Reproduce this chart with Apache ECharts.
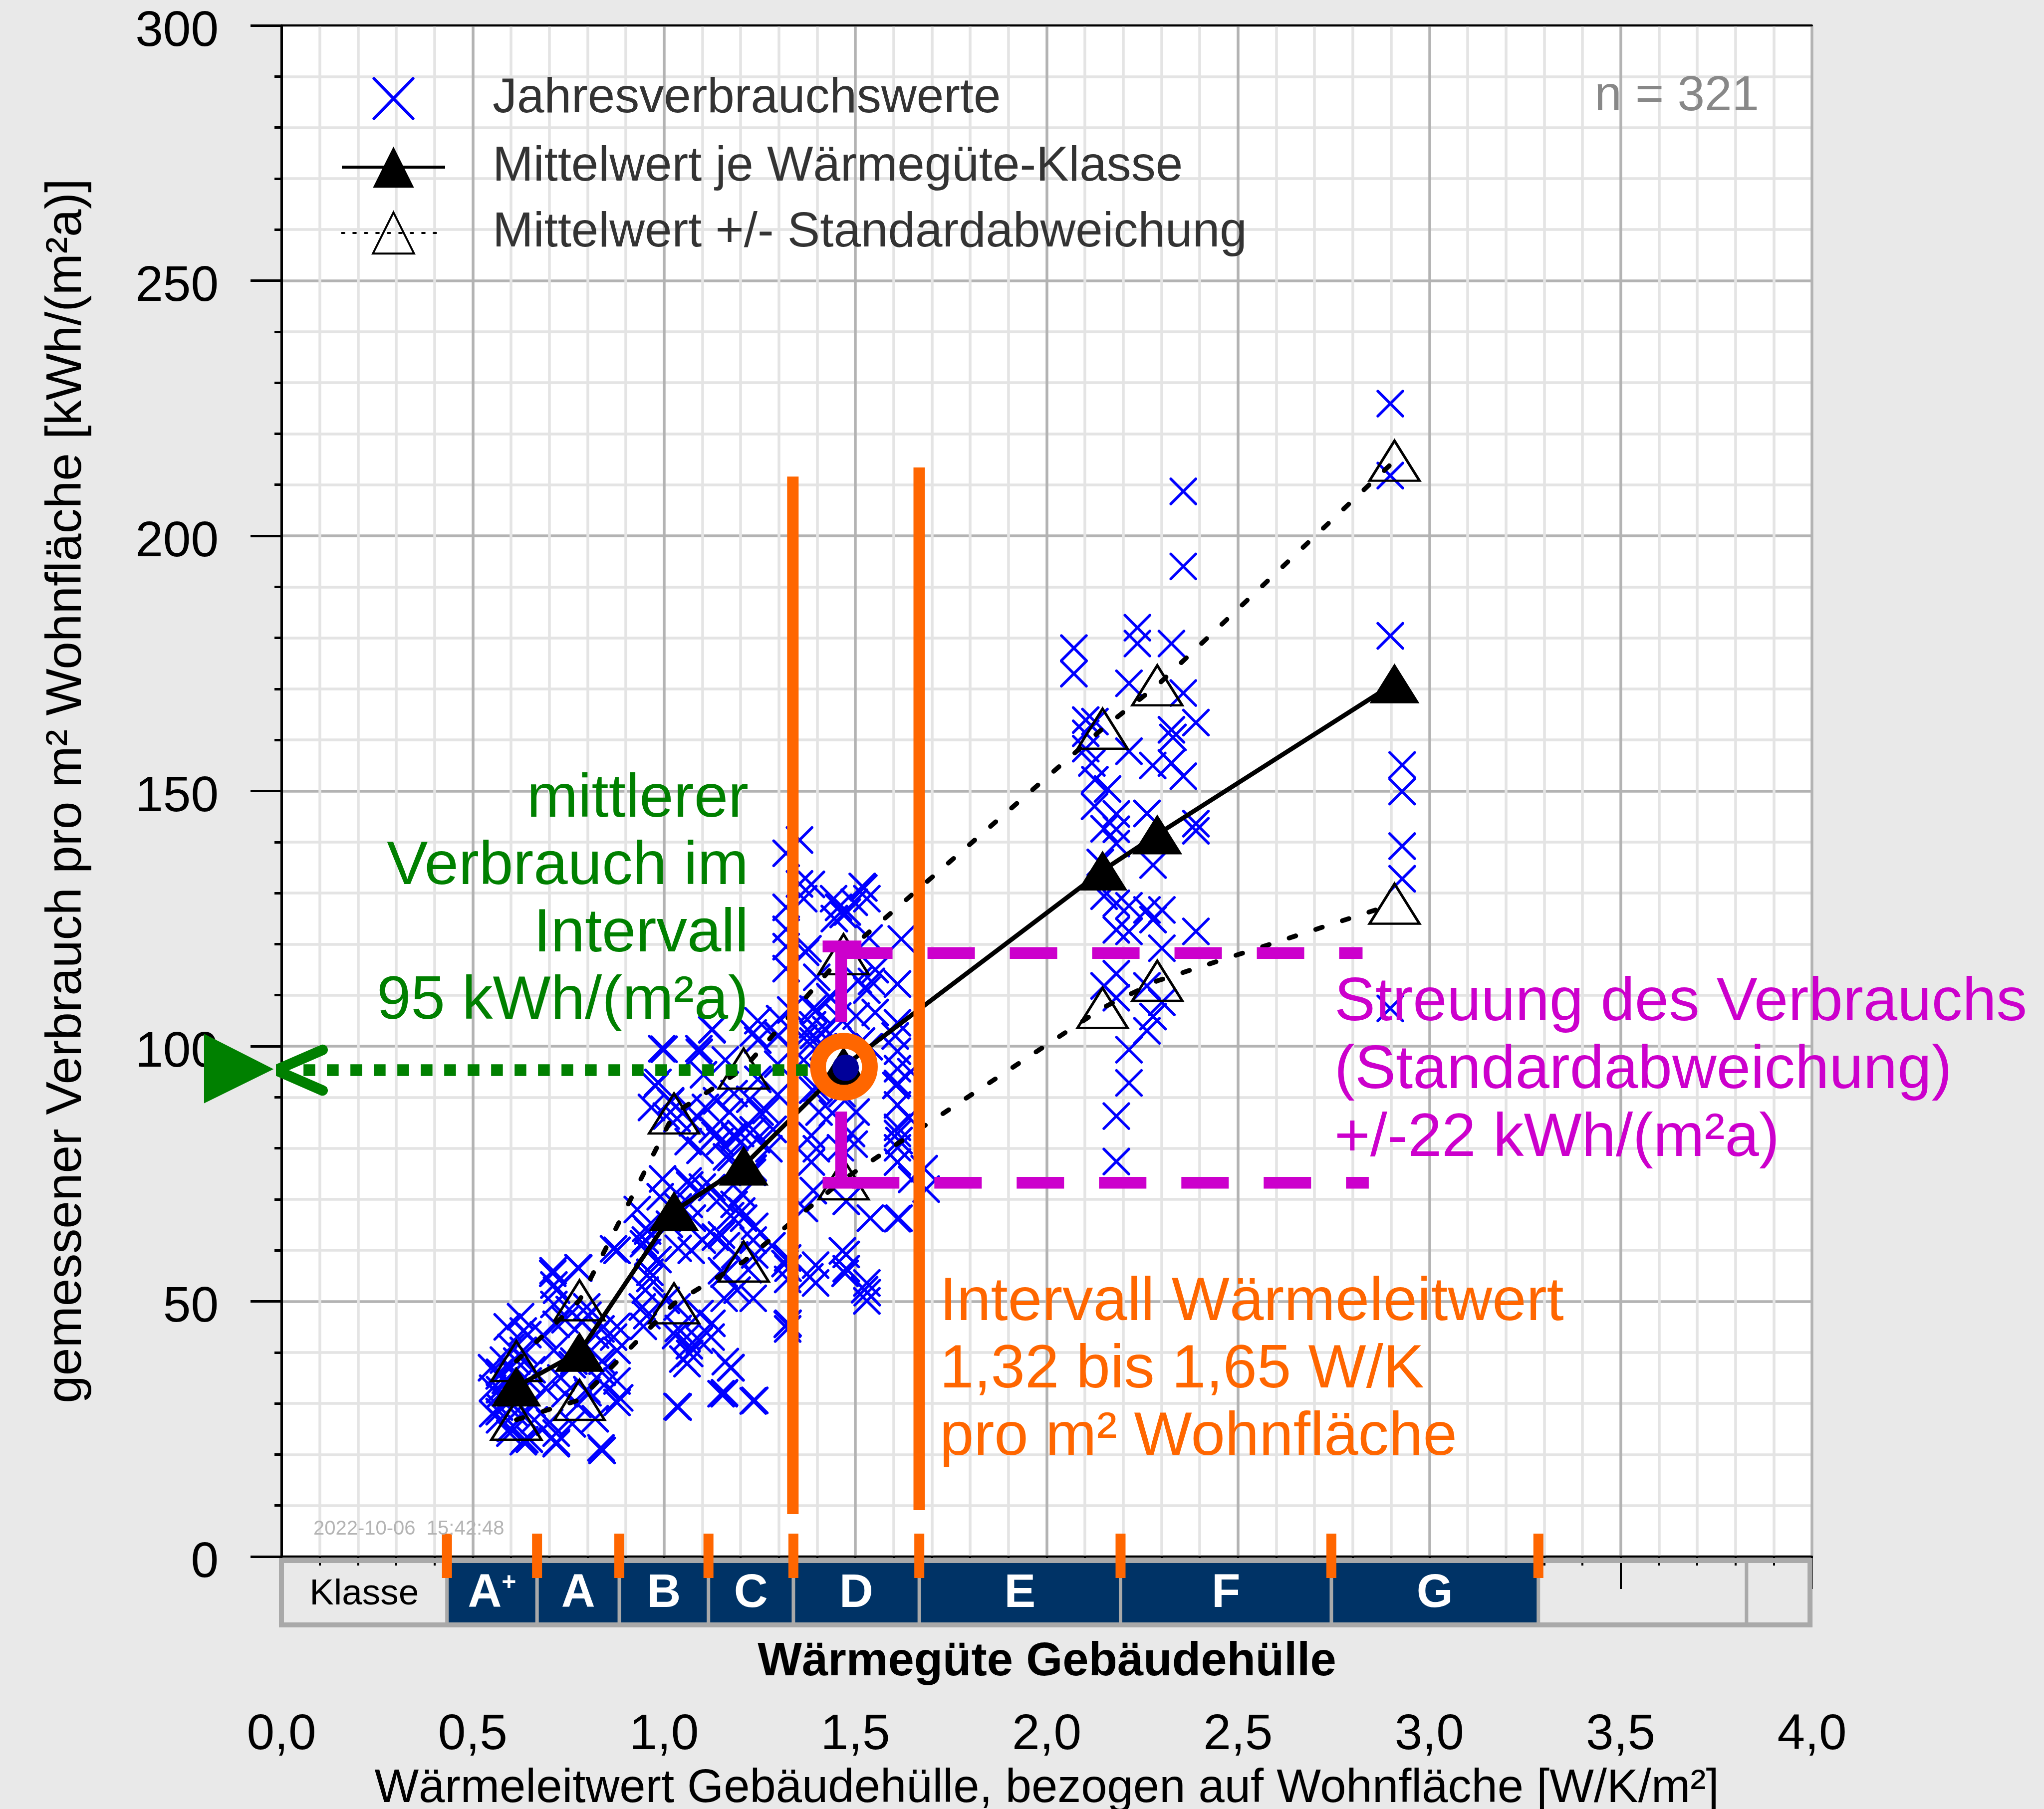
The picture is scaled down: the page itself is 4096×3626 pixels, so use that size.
<!DOCTYPE html>
<html><head><meta charset="utf-8">
<script src="https://cdn.jsdelivr.net/npm/echarts@6/dist/echarts.min.js"></script>
<style>html,body{margin:0;padding:0;background:#e9e9e9;}#chart{width:4096px;height:3626px;}</style>
</head><body><div id="chart"></div>
<script>
const FONT = '"Liberation Sans", Arial, Helvetica, sans-serif';

// ---- measured consumption values (x: W/K/m², y: kWh/(m²a)) per class ----
const ptsAplus = [[0.632,44.2],[0.632,40.4],[0.615,38.3],[0.655,36.6],[0.570,36.1],[0.570,32.7],[0.570,29.3],[0.570,26.8],[0.593,30.6],[0.610,28.1],[0.632,27.6],[0.632,22.5],[0.598,25.1],[0.661,26.8],[0.644,43.5],[0.628,39.2],[0.569,35.4],[0.569,31.6],[0.569,28.4],[0.636,22.9],[0.552,28.0],[0.549,37.0],[0.552,33.0],[0.585,34.5],[0.600,41.0],[0.620,32.0],[0.645,34.4],[0.597,24.2],[0.648,23.0],[0.580,38.5],[0.605,36.0],[0.655,30.0],[0.625,47.0],[0.590,45.0]];
const ptsA = [[0.709,55.5],[0.712,53.2],[0.712,49.4],[0.741,46.4],[0.718,45.5],[0.798,48.9],[0.786,45.9],[0.821,43.4],[0.877,45.1],[0.718,22.1],[0.718,24.2],[0.701,26.3],[0.741,31.9],[0.775,29.8],[0.798,32.7],[0.838,38.3],[0.838,36.1],[0.843,33.6],[0.877,34.4],[0.877,30.2],[0.838,20.8],[0.764,38.3],[0.712,40.4],[0.809,40.4],[0.684,43.4],[0.877,40.4],[0.775,56.6],[0.877,60.0],[0.710,56.0],[0.777,56.5],[0.719,52.2],[0.752,48.4],[0.801,47.3],[0.835,44.6],[0.868,43.0],[0.719,22.4],[0.835,21.3],[0.801,32.1],[0.760,37.6],[0.868,60.3],[0.690,33.0],[0.730,35.0],[0.760,26.0],[0.820,27.0]];
const ptsB = [[0.957,63.8],[0.946,61.3],[0.957,59.6],[0.963,55.7],[0.963,54.5],[0.952,64.3],[1.014,65.1],[1.037,68.5],[1.066,69.0],[1.063,73.6],[1.100,72.4],[1.037,60.4],[1.071,60.0],[1.037,44.7],[1.094,47.6],[1.066,41.3],[1.049,38.7],[1.060,37.8],[1.037,29.3],[0.946,45.1],[1.063,81.3],[1.094,79.6],[1.000,99.4],[1.092,98.8],[0.984,92.9],[0.967,88.0],[1.017,89.1],[1.034,85.8],[1.108,88.0],[1.067,72.8],[1.100,62.0],[0.951,62.0],[0.984,58.2],[0.951,52.2],[0.943,48.9],[1.034,48.9],[1.092,42.4],[1.059,43.0],[1.067,39.8],[1.034,29.4],[0.884,31.1],[0.994,99.5],[1.091,99.5],[1.103,94.4],[1.017,89.3],[0.977,92.2],[1.074,85.0],[1.006,86.3],[1.063,88.0],[0.996,74.0],[1.074,66.3],[0.990,70.5],[0.930,68.0],[1.006,50.2],[1.030,43.3],[0.955,47.2]];
const ptsC = [[1.146,81.3],[1.185,82.1],[1.242,81.7],[1.163,78.3],[1.231,75.3],[1.146,70.2],[1.203,71.1],[1.174,66.8],[1.203,67.7],[1.237,64.7],[1.134,62.6],[1.163,60.9],[1.185,59.1],[1.237,59.1],[1.220,56.2],[1.316,57.4],[1.157,55.3],[1.157,50.6],[1.123,43.0],[1.174,37.0],[1.157,31.9],[1.237,30.6],[1.322,45.5],[1.125,103.2],[1.233,102.6],[1.299,102.1],[1.183,90.7],[1.224,89.6],[1.266,87.4],[1.133,82.6],[1.183,82.6],[1.233,83.6],[1.274,79.9],[1.175,78.2],[1.233,76.1],[1.125,72.3],[1.183,69.0],[1.208,66.3],[1.150,63.0],[1.233,62.0],[1.324,45.7],[1.175,37.0],[1.158,32.1],[1.233,30.5],[1.125,45.7],[1.233,50.6],[1.191,52.2],[1.150,56.0],[1.282,60.9],[1.324,56.5],[1.319,137.8],[1.319,127.2],[1.319,122.9],[1.319,119.5],[1.319,115.2],[1.331,107.1],[1.302,105.4],[1.245,105.0],[1.126,103.3],[1.245,101.2],[1.297,102.0],[1.160,97.3],[1.245,93.5],[1.297,96.5],[1.297,90.5],[1.171,87.1],[1.251,87.1],[1.126,83.7],[1.285,83.7],[1.200,82.9],[1.137,89.3],[1.323,58.5],[1.323,54.3],[1.323,44.6],[1.149,31.9],[1.160,38.2]];
const ptsD = [[1.354,140.4],[1.354,131.8],[1.365,128.9],[1.522,131.0],[1.530,128.9],[1.456,127.2],[1.479,126.3],[1.445,125.0],[1.376,119.1],[1.536,121.2],[1.542,112.7],[1.530,111.0],[1.399,113.5],[1.399,107.1],[1.433,109.7],[1.502,105.9],[1.610,104.6],[1.604,102.0],[1.610,99.0],[1.610,95.6],[1.610,92.7],[1.610,84.1],[1.610,82.9],[1.388,104.2],[1.365,101.6],[1.433,102.4],[1.416,99.9],[1.365,97.3],[1.536,99.9],[1.502,87.1],[1.405,87.1],[1.388,91.4],[1.490,82.9],[1.385,131.7],[1.443,128.9],[1.497,128.2],[1.468,125.8],[1.370,118.4],[1.552,115.0],[1.610,112.2],[1.508,112.9],[1.436,109.4],[1.552,106.6],[1.389,107.3],[1.516,101.0],[1.389,101.0],[1.454,105.9],[1.385,82.5],[1.385,77.3],[1.461,80.1],[1.497,80.8],[1.610,88.5],[1.610,80.1],[1.610,77.3],[1.476,69.6],[1.367,68.2],[1.610,66.2],[1.476,59.2],[1.476,56.4],[1.396,57.1],[1.396,53.6],[1.530,53.6],[1.530,50.1],[1.473,55.5],[1.531,51.7],[1.539,66.3],[1.614,66.3],[1.647,73.9],[1.614,81.5],[1.398,79.9],[1.390,71.7],[1.440,86.9],[1.465,90.7],[1.398,91.8],[1.606,92.3],[1.390,102.1],[1.423,103.2],[1.640,86.0],[1.645,95.0],[1.620,121.0],[1.518,131.3],[1.466,59.9],[1.524,52.3],[1.381,54.8]];
const ptsEF = [[2.357,208.7],[2.357,194.0],[2.071,178.0],[2.071,173.0],[2.237,182.0],[2.237,178.9],[2.326,178.9],[2.215,171.1],[2.357,169.2],[2.390,163.4],[2.326,162.0],[2.330,160.5],[2.102,163.9],[2.102,161.3],[2.102,158.3],[2.126,163.6],[2.215,157.8],[2.277,155.0],[2.326,155.5],[2.357,152.9],[2.126,152.2],[2.182,145.5],[2.182,142.5],[2.262,145.6],[2.390,143.6],[2.390,142.2],[2.150,142.6],[2.182,139.7],[2.278,135.5],[2.150,129.4],[2.182,128.0],[2.215,127.5],[2.262,126.7],[2.278,124.8],[2.301,126.7],[2.215,122.5],[2.182,122.8],[2.301,119.2],[2.390,122.5],[2.182,114.2],[2.150,111.8],[2.182,109.5],[2.262,111.8],[2.301,108.6],[2.278,105.8],[2.262,103.0],[2.215,99.3],[2.215,92.8],[2.182,86.3],[2.182,77.4],[1.685,72.0],[1.680,76.0],[2.118,155.5],[2.159,150.4],[2.125,147.0],[2.140,136.0]];
const ptsG = [[2.898,225.9],[2.898,211.8],[2.898,180.4],[2.929,155.1],[2.929,149.9],[2.929,139.2],[2.929,132.8],[2.898,107.4]];

// ---- class means and +/- standard deviation ----
const classMeanX = [0.614, 0.779, 1.026, 1.208, 1.469, 2.146, 2.289, 2.909];
const classMeanY = [33.3, 40.1, 67.7, 76.6, 96.0, 134.4, 141.5, 171.1];
const classUpperY = [38.3, 50.2, 86.8, 95.6, 118.0, 162.2, 170.7, 214.7];
const classLowerY = [26.8, 30.7, 49.6, 57.8, 73.9, 107.5, 112.8, 127.9];

// ---- heat-quality classes below the x axis ----
const classEdges = [0, 0.4326, 0.668, 0.883, 1.116, 1.338, 1.667, 2.193, 2.744, 3.285, 3.829, 3.995];
const classNames = ['Klasse', 'A+', 'A', 'B', 'C', 'D', 'E', 'F', 'G', '', ''];
const classRated = [false, true, true, true, true, true, true, true, true, false, false];

// ---- annotations (data coordinates) ----
const intervalLeft = [[1.3366, 8.3], [1.3366, 211.6]];
const intervalRight = [[1.6668, 9.1], [1.6668, 213.4]];
const focusPoint = [1.4701, 95.96];
const focusDot = [1.4745, 95.78];
const sdBarUpper = [[1.4627, 119.55], [1.4627, 104.8]];
const sdBarLower = [[1.4627, 87.2], [1.4627, 72.2]];
const sdCapUpper = [[1.4144, 119.55], [1.5158, 119.55]];
const sdCapLower = [[1.4144, 73.25], [1.5158, 73.25]];
const sdDashUpper = [[1.4732, 118.25], [2.8255, 118.25]];
const sdDashLower = [[1.4911, 73.25], [2.8417, 73.25]];
const greenDotted = [[0.0576, 95.3], [1.3774, 95.3]];
const greenChevron = [[0.1076, 99.28], [-0.0144, 95.3], [0.1076, 91.32]];
const greenHead = [[-0.2022, 102.42], [-0.0205, 95.5], [-0.2022, 88.8]];

const xTickFmt = v => v.toFixed(1).replace('.', ',');
const allPoints = [].concat(ptsAplus, ptsA, ptsB, ptsC, ptsD, ptsEF, ptsG);
const classCells = classNames.map((n, i) => [classEdges[i], classEdges[i + 1], i]);
const classTicks = classEdges.slice(1, 10).map(v => [v, 0]);

const X_LEGEND = 'path://M0,0L0,0M12,11L88,89M88,11L12,89M100,100L100,100';

// cross marker for each measured value
function renderCross(params, api) {
  const p = api.coord([api.value(0), api.value(1)]);
  const r = 25;
  const st = {stroke: '#0000ff', lineWidth: 5.5, lineCap: 'round'};
  return {type: 'group', children: [
    {type: 'line', shape: {x1: p[0] - r, y1: p[1] - r, x2: p[0] + r, y2: p[1] + r}, style: st},
    {type: 'line', shape: {x1: p[0] - r, y1: p[1] + r, x2: p[0] + r, y2: p[1] - r}, style: st}
  ]};
}

function renderCell(params, api) {
  const i = api.value(2);
  const ps = api.coord([api.value(0), 0]);
  const pe = api.coord([api.value(1), 0]);
  const top = ps[1] + 8, h = 129;
  const ch = [];
  if (classRated[i]) {
    ch.push({type: 'rect', z2: 1, shape: {x: ps[0], y: top, width: pe[0] - ps[0], height: h}, style: {fill: '#003366'}});
  }
  if (i > 0) {
    ch.push({type: 'line', z2: 2, shape: {x1: ps[0], y1: top, x2: ps[0], y2: top + h}, style: {stroke: '#a9a9a9', lineWidth: 7}});
  }
  if (i === 0) {
    const pr = api.coord([classEdges[classEdges.length - 1], 0]);
    ch.push({type: 'rect', z2: 3, shape: {x: ps[0], y: top, width: pr[0] - ps[0], height: h}, style: {fill: null, stroke: '#a9a9a9', lineWidth: 10}});
  }
  const name = classNames[i];
  if (name) {
    const cx = (ps[0] + pe[0]) / 2, cy = top + h / 2 + 3;
    if (!classRated[i]) {
      ch.push({type: 'text', z2: 4, x: cx, y: cy, style: {text: name, align: 'center', verticalAlign: 'middle', fill: '#000', fontSize: 73, fontFamily: FONT}});
    } else if (name === 'A+') {
      ch.push({type: 'text', z2: 4, x: cx, y: cy, style: {text: '{a|A}{p|+}', align: 'center', verticalAlign: 'middle', rich: {
        a: {fontSize: 94, fontWeight: 'bold', fill: '#fff', fontFamily: FONT, lineHeight: 94},
        p: {fontSize: 50, fontWeight: 'bold', fill: '#fff', fontFamily: FONT, verticalAlign: 'top', lineHeight: 60}}}});
    } else {
      ch.push({type: 'text', z2: 4, x: cx, y: cy, style: {text: name, align: 'center', verticalAlign: 'middle', fill: '#fff', fontSize: 94, fontWeight: 'bold', fontFamily: FONT}});
    }
  }
  return {type: 'group', children: ch};
}

function renderTick(params, api) {
  const p = api.coord([api.value(0), 0]);
  return {type: 'rect', shape: {x: p[0] - 10, y: p[1] - 46, width: 20, height: 89}, style: {fill: '#ff6600'}};
}

function renderHead(params, api) {
  const pts = greenHead.map(d => api.coord(d));
  return {type: 'polygon', shape: {points: pts}, style: {fill: '#008000'}};
}

function renderFocusBg(params, api) {
  const p = api.coord(focusPoint);
  return {type: 'circle', shape: {cx: p[0], cy: p[1], r: 55}, style: {fill: '#ffffff'}};
}
function renderFocusDot(params, api) {
  const p = api.coord(focusDot);
  return {type: 'circle', shape: {cx: p[0], cy: p[1], r: 26.5}, style: {fill: '#000099'}};
}
function renderFocusRing(params, api) {
  const p = api.coord(focusPoint);
  return {type: 'circle', shape: {cx: p[0], cy: p[1], r: 52}, style: {fill: null, stroke: '#ff6600', lineWidth: 31.5}};
}

function seg(data, color, width, z, type, cap) {
  return {type: 'line', data: data, z: z, symbol: 'none', silent: true, clip: false, animation: false,
    lineStyle: {color: color, width: width, type: type || 'solid', cap: cap || 'butt', join: 'round', opacity: 1}};
}

const chart = echarts.init(document.getElementById('chart'), null, {renderer: 'canvas'});
chart.setOption({
  animation: false,
  backgroundColor: '#e9e9e9',
  textStyle: {fontFamily: FONT},
  grid: {left: 564, right: 465, top: 51, bottom: 506, show: true, backgroundColor: '#ffffff', borderWidth: 0, containLabel: false, outerBoundsMode: 'none'},
  legend: {
    left: 682, top: 143, orient: 'vertical', padding: 0, itemWidth: 207, itemHeight: 103, itemGap: 34,
    selectedMode: false,
    textStyle: {fontSize: 98, color: '#333333', fontFamily: FONT, padding: [0, 0, 0, 90]},
    data: [
      {name: 'Jahresverbrauchswerte', icon: X_LEGEND, itemStyle: {color: '#0000ff', borderColor: '#0000ff', borderWidth: 6, borderCap: 'round', opacity: 1}},
      {name: 'Mittelwert je Wärmegüte-Klasse', itemStyle: {color: '#000000', borderWidth: 0}, lineStyle: {color: '#000000', width: 6, type: 'solid'}},
      {name: 'Mittelwert +/- Standardabweichung', itemStyle: {color: 'rgba(0,0,0,0)', borderColor: '#000000', borderWidth: 4}, lineStyle: {color: '#000000', width: 4, type: [5, 18]}}
    ]
  },
  xAxis: [{
    type: 'value', min: 0, max: 4, interval: 0.5, position: 'bottom',
    axisLine: {show: true, onZero: false, lineStyle: {color: '#000', width: 4}},
    axisTick: {show: true, inside: false, length: 65, lineStyle: {color: '#000', width: 4}},
    minorTick: {show: true, splitNumber: 5, length: 18, lineStyle: {color: '#000', width: 4}},
    splitLine: {show: true, lineStyle: {color: '#b3b3b3', width: 5.5}},
    minorSplitLine: {show: true, lineStyle: {color: '#e4e4e4', width: 5.5}},
    axisLabel: {show: true, margin: 308, fontSize: 100, color: '#000', fontFamily: FONT, formatter: xTickFmt, showMinLabel: true, showMaxLabel: true, hideOverlap: false},
    name: 'Wärmeleitwert Gebäudehülle, bezogen auf Wohnfläche [W/K/m²]',
    nameLocation: 'middle', nameGap: 419,
    nameTextStyle: {fontSize: 94, color: '#000', fontFamily: FONT}
  }, {
    type: 'value', min: 0, max: 4, position: 'top',
    axisLine: {show: true, onZero: false, lineStyle: {color: '#000', width: 4}},
    axisTick: {show: false}, axisLabel: {show: false}, splitLine: {show: false}
  }],
  yAxis: {
    type: 'value', min: 0, max: 300, interval: 50, position: 'left',
    axisLine: {show: true, onZero: false, lineStyle: {color: '#000', width: 5}},
    axisTick: {show: true, inside: false, length: 62, lineStyle: {color: '#000', width: 5}},
    minorTick: {show: true, splitNumber: 5, length: 14, lineStyle: {color: '#000', width: 5}},
    splitLine: {show: true, lineStyle: {color: '#b3b3b3', width: 5.5}},
    minorSplitLine: {show: true, lineStyle: {color: '#e4e4e4', width: 5.5}},
    axisLabel: {show: true, margin: 126, color: '#000', fontFamily: FONT, showMinLabel: true, showMaxLabel: true,
      formatter: v => '{v|' + v + '}',
      rich: {v: {fontSize: 100, color: '#000', fontFamily: FONT, padding: [26, 0, 0, 0]}}},
    name: 'gemessener Verbrauch pro m² Wohnfläche [kWh/(m²a)]',
    nameLocation: 'middle', nameGap: 380,
    nameTextStyle: {fontSize: 100, color: '#000', fontFamily: FONT}
  },
  series: [
    {type: 'custom', name: 'Jahresverbrauchswerte', data: allPoints, z: 2, renderItem: renderCross, silent: true, clip: false,
      itemStyle: {color: '#0000ff'}},
    {type: 'custom', name: 'classes', data: classCells, renderItem: renderCell, z: 3, silent: true, clip: false},
    {type: 'custom', name: 'classTicks', data: classTicks, renderItem: renderTick, z: 4, silent: true, clip: false},
    {type: 'custom', name: 'focusBg', data: [[0, 0]], renderItem: renderFocusBg, z: 3, silent: true, clip: false},
    {type: 'line', name: 'Mittelwert +/- Standardabweichung', z: 5, silent: true, clip: false,
      data: classMeanX.map((x, i) => [x, classUpperY[i]]),
      symbol: 'triangle', symbolSize: [100, 80], showSymbol: true,
      itemStyle: {color: 'rgba(0,0,0,0)', borderColor: '#000', borderWidth: 5, opacity: 1},
      lineStyle: {color: '#000', width: 9.5, type: [14, 42], cap: 'round'}},
    {type: 'line', name: 'Mittelwert +/- Standardabweichung', z: 5, silent: true, clip: false,
      data: classMeanX.map((x, i) => [x, classLowerY[i]]),
      symbol: 'triangle', symbolSize: [100, 80], showSymbol: true,
      itemStyle: {color: 'rgba(0,0,0,0)', borderColor: '#000', borderWidth: 5, opacity: 1},
      lineStyle: {color: '#000', width: 9.5, type: [14, 42], cap: 'round'}},
    {type: 'line', name: 'Mittelwert je Wärmegüte-Klasse', z: 6, silent: true, clip: false,
      data: classMeanX.map((x, i) => [x, classMeanY[i]]),
      symbol: 'triangle', symbolSize: [100, 80], showSymbol: true,
      itemStyle: {color: '#000', borderWidth: 0, opacity: 1},
      lineStyle: {color: '#000', width: 9, type: 'solid'}},
    {type: 'custom', name: 'focusDot', data: [[0, 0]], renderItem: renderFocusDot, z: 7, silent: true, clip: false},
    {type: 'custom', name: 'focusRing', data: [[0, 0]], renderItem: renderFocusRing, z: 8, silent: true, clip: false},
    seg(intervalLeft, '#ff6600', 23, 9),
    seg(intervalRight, '#ff6600', 23, 9),
    seg(sdBarUpper, '#cc00cc', 23.5, 10),
    seg(sdBarLower, '#cc00cc', 23.5, 10),
    seg(sdCapUpper, '#cc00cc', 23.5, 10),
    seg(sdCapLower, '#cc00cc', 23.5, 10),
    seg(sdDashUpper, '#cc00cc', 23.5, 10, [95, 70]),
    seg(sdDashLower, '#cc00cc', 23.5, 10, [95, 70]),
    seg(greenDotted, '#008000', 23.5, 10, [23.5, 23.5]),
    seg(greenChevron, '#008000', 21, 10, 'solid', 'round'),
    {type: 'custom', name: 'greenHead', data: [[0, 0]], renderItem: renderHead, z: 10, silent: true, clip: false}
  ],
  graphic: [
    {type: 'text', z: 50, x: 3525, y: 194, style: {text: 'n = 321', align: 'right', verticalAlign: 'middle', fill: '#888888', fontSize: 98, fontFamily: FONT}},
    {type: 'text', z: 50, x: 2098, y: 3332, style: {text: 'Wärmegüte Gebäudehülle', align: 'center', verticalAlign: 'middle', fill: '#000', fontSize: 94, fontWeight: 'bold', fontFamily: FONT}},
    {type: 'text', z: 50, x: 628, y: 3065, style: {text: '2022-10-06  15:42:48', align: 'left', verticalAlign: 'middle', fill: '#b4b4b4', fontSize: 40, fontFamily: FONT}},
    {type: 'text', z: 50, x: 1500, y: 1806, style: {text: 'mittlerer\nVerbrauch im\nIntervall\n95 kWh/(m²a)', align: 'right', verticalAlign: 'middle', fill: '#008000', fontSize: 123, lineHeight: 135, fontFamily: FONT}},
    {type: 'text', z: 50, x: 2674, y: 2147, style: {text: 'Streuung des Verbrauchs\n(Standardabweichung)\n+/-22 kWh/(m²a)', align: 'left', verticalAlign: 'middle', fill: '#cc00cc', fontSize: 123, lineHeight: 136, fontFamily: FONT}},
    {type: 'text', z: 50, x: 1883, y: 2747, style: {text: 'Intervall Wärmeleitwert\n1,32 bis 1,65 W/K\npro m² Wohnfläche', align: 'left', verticalAlign: 'middle', fill: '#ff6600', fontSize: 123, lineHeight: 135, fontFamily: FONT}}
  ]
});
</script></body></html>
